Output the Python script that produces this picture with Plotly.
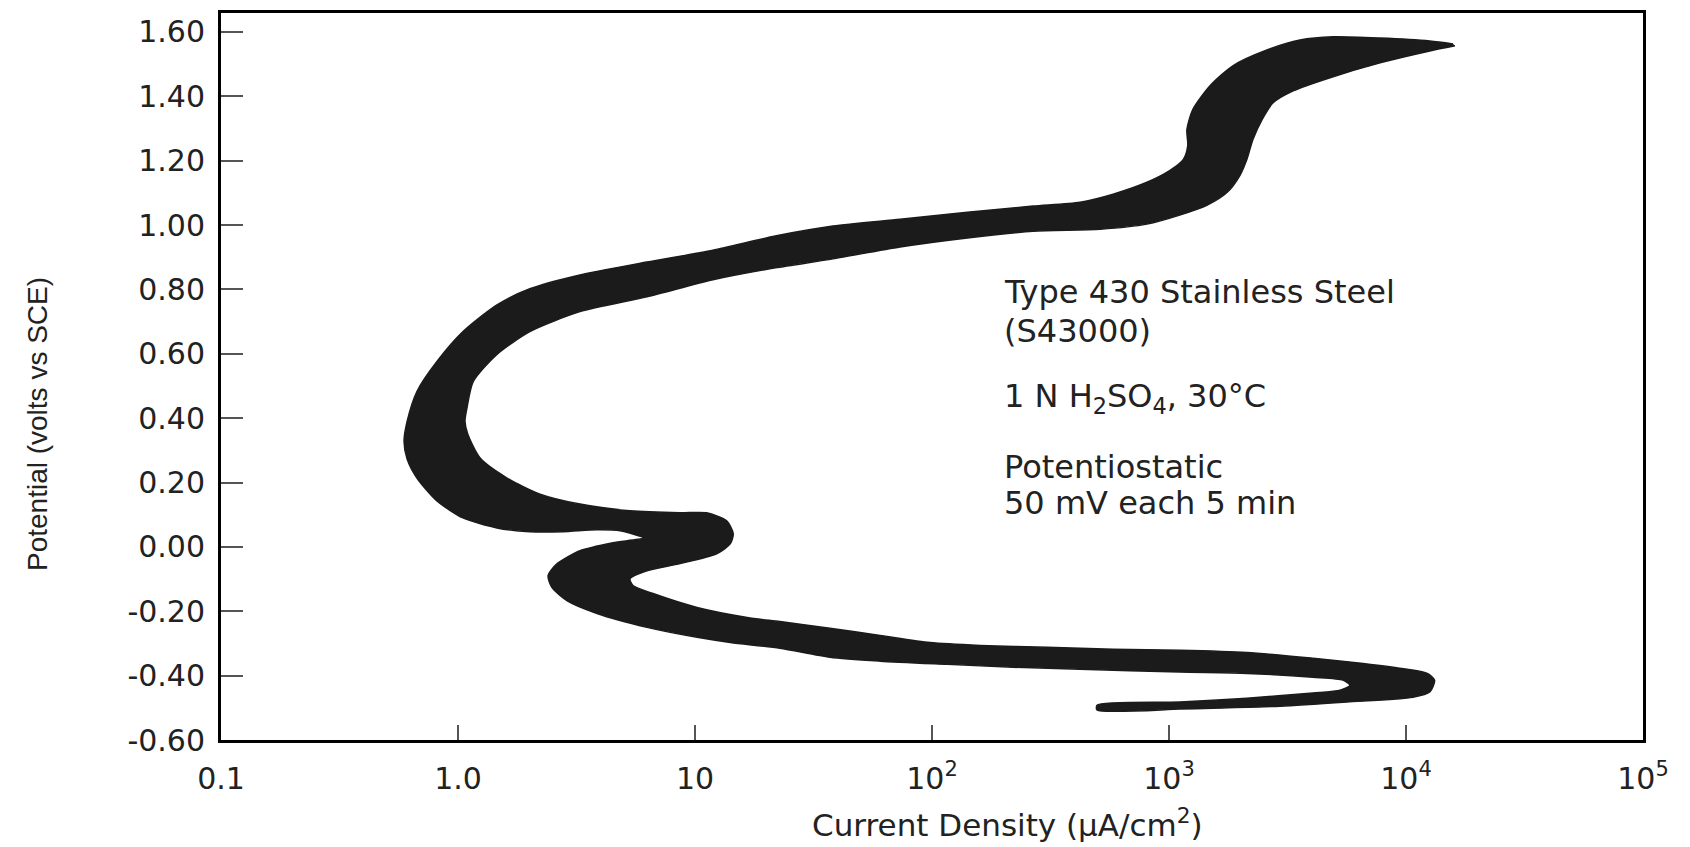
import plotly.graph_objects as go

# Outline of the polarization band.
# Edge A: from the top tip along the upper/left boundary down to the tail end.
edge_a_current = [15800, 12600, 7770, 4920, 3570, 2590, 1860, 1490, 1260, 1190,
                  1200, 1150, 1010, 807, 581, 421, 267, 141, 73.3, 38.2,
                  21.8, 11.9, 6.27, 3.27, 2.01, 1.46, 1.05, 0.815, 0.671, 0.610,
                  0.592, 0.610, 0.671, 0.815, 1.05, 1.46, 2.01, 2.77, 3.86, 4.83,
                  6.04, 4.51, 3.27, 2.62, 2.40, 2.49, 2.88, 3.86, 6.27, 10.2,
                  14.1, 22.8, 37.1, 60.4, 116, 220, 421, 1110, 2130, 4050,
                  5420, 5800, 5270, 4050, 2130, 1110, 497]
edge_a_potential = [1.563, 1.572, 1.581, 1.585, 1.575, 1.544, 1.495, 1.433, 1.359, 1.297,
                    1.247, 1.204, 1.170, 1.133, 1.096, 1.071, 1.059, 1.040, 1.018, 0.997,
                    0.966, 0.922, 0.885, 0.845, 0.802, 0.752, 0.669, 0.576, 0.483, 0.390,
                    0.328, 0.273, 0.214, 0.143, 0.090, 0.059, 0.047, 0.047, 0.053, 0.050,
                    0.028, 0.013, -0.012, -0.052, -0.089, -0.126, -0.167, -0.207, -0.250, -0.281,
                    -0.297, -0.315, -0.343, -0.355, -0.365, -0.374, -0.380, -0.389, -0.393, -0.405,
                    -0.414, -0.430, -0.445, -0.454, -0.470, -0.482, -0.492]

# Edge B: from the top tip along the lower/right boundary down to the tail end.
edge_b_current = [16100, 12600, 7770, 4780, 3340, 2750, 2470, 2260, 2130, 1990,
                  1760, 1450, 1110, 807, 512, 267, 141, 73.3, 38.2, 21.8,
                  11.9, 6.27, 3.27, 2.01, 1.46, 1.16, 1.09, 1.07, 1.10, 1.24,
                  1.61, 2.22, 3.27, 5.32, 8.65, 11.2, 13.6, 14.5, 14.1, 12.4,
                  8.65, 6.27, 5.32, 5.47, 6.65, 10.2, 16.6, 22.8, 37.1, 60.4,
                  98.1, 160, 306, 581, 1110, 2130, 4050, 6590, 10100, 12300,
                  13200, 12600, 10700, 5640, 2940, 1530, 1110, 497]
edge_b_potential = [1.557, 1.541, 1.504, 1.458, 1.417, 1.380, 1.328, 1.266, 1.204, 1.154,
                    1.102, 1.062, 1.031, 1.003, 0.987, 0.981, 0.960, 0.932, 0.895, 0.867,
                    0.830, 0.777, 0.731, 0.669, 0.598, 0.514, 0.430, 0.390, 0.350, 0.276,
                    0.214, 0.164, 0.133, 0.112, 0.106, 0.106, 0.081, 0.041, 0.010, -0.021,
                    -0.052, -0.074, -0.099, -0.120, -0.145, -0.188, -0.219, -0.232, -0.253, -0.275,
                    -0.297, -0.306, -0.312, -0.318, -0.321, -0.328, -0.346, -0.362, -0.380, -0.393,
                    -0.414, -0.451, -0.467, -0.482, -0.495, -0.501, -0.504, -0.507]

x_tick_values = [0.1, 1, 10, 100, 1000, 10000, 100000]
x_tick_labels = ["0.1", "1.0", "10", "10<sup>2</sup>", "10<sup>3</sup>",
                 "10<sup>4</sup>", "10<sup>5</sup>"]
y_tick_values = [-0.6, -0.4, -0.2, 0.0, 0.2, 0.4, 0.6, 0.8, 1.0, 1.2, 1.4, 1.6]
y_tick_labels = ["-0.60", "-0.40", "-0.20", "0.00", "0.20", "0.40", "0.60",
                 "0.80", "1.00", "1.20", "1.40", "1.60"]

note_lines = ["Type 430 Stainless Steel", "(S43000)",
              "1 N H<sub>2</sub>SO<sub>4</sub>, 30°C",
              "Potentiostatic", "50 mV each 5 min"]
note_y = [0.616, 0.563, 0.470, 0.376, 0.326]

poly_x = edge_a_current + edge_b_current[::-1]
poly_y = edge_a_potential + edge_b_potential[::-1]

fig = go.Figure()
fig.add_trace(go.Scatter(
    x=poly_x, y=poly_y, mode="lines", fill="toself",
    fillcolor="#1b1b1b",
    line=dict(color="#1b1b1b", width=1.5, shape="spline", smoothing=0.7),
    hoverinfo="skip", showlegend=False))

TXT = "#222222"
HFONT = "DejaVu Sans"

# The page body adds an 8 px margin; the plot area is placed to match the reference.
fig.update_layout(
    width=1682, height=847,
    margin=dict(l=213, r=47, t=2, b=115),
    paper_bgcolor="white", plot_bgcolor="white",
    showlegend=False,
    xaxis=dict(type="log", range=[-1, 5], tickvals=x_tick_values, ticktext=x_tick_labels,
               ticks="inside", ticklen=15, tickwidth=2, tickcolor="#555555",
               showline=True, linecolor="black", linewidth=3, mirror=True,
               showgrid=False, zeroline=False, ticklabelstandoff=10,
               tickfont=dict(family=HFONT, size=30, color=TXT)),
    yaxis=dict(range=[-0.6, 1.659], tickvals=y_tick_values, ticktext=y_tick_labels,
               ticks="inside", ticklen=22, tickwidth=2, tickcolor="#555555",
               showline=True, linecolor="black", linewidth=3, mirror=True,
               showgrid=False, zeroline=False, ticklabelstandoff=7,
               tickfont=dict(family=HFONT, size=30, color=TXT)),
)

for txt, yy in zip(note_lines, note_y):
    fig.add_annotation(text=txt, xref="paper", yref="paper", x=0.549, y=yy,
                       xanchor="left", yanchor="middle", showarrow=False,
                       font=dict(family=HFONT, size=32, color=TXT))

fig.add_annotation(text="Current Density (μA/cm<sup>2</sup>)", xref="paper", yref="paper",
                   x=0.553, y=-0.114, xanchor="center", yanchor="middle", showarrow=False,
                   font=dict(family=HFONT, size=31, color=TXT))
fig.add_annotation(text="Potential (volts vs SCE)", xref="paper", yref="paper",
                   x=-0.129, y=0.434, xanchor="center", yanchor="middle", showarrow=False,
                   textangle=-90,
                   font=dict(family="Liberation Sans", size=28, color=TXT))

fig.write_html("out.html")
